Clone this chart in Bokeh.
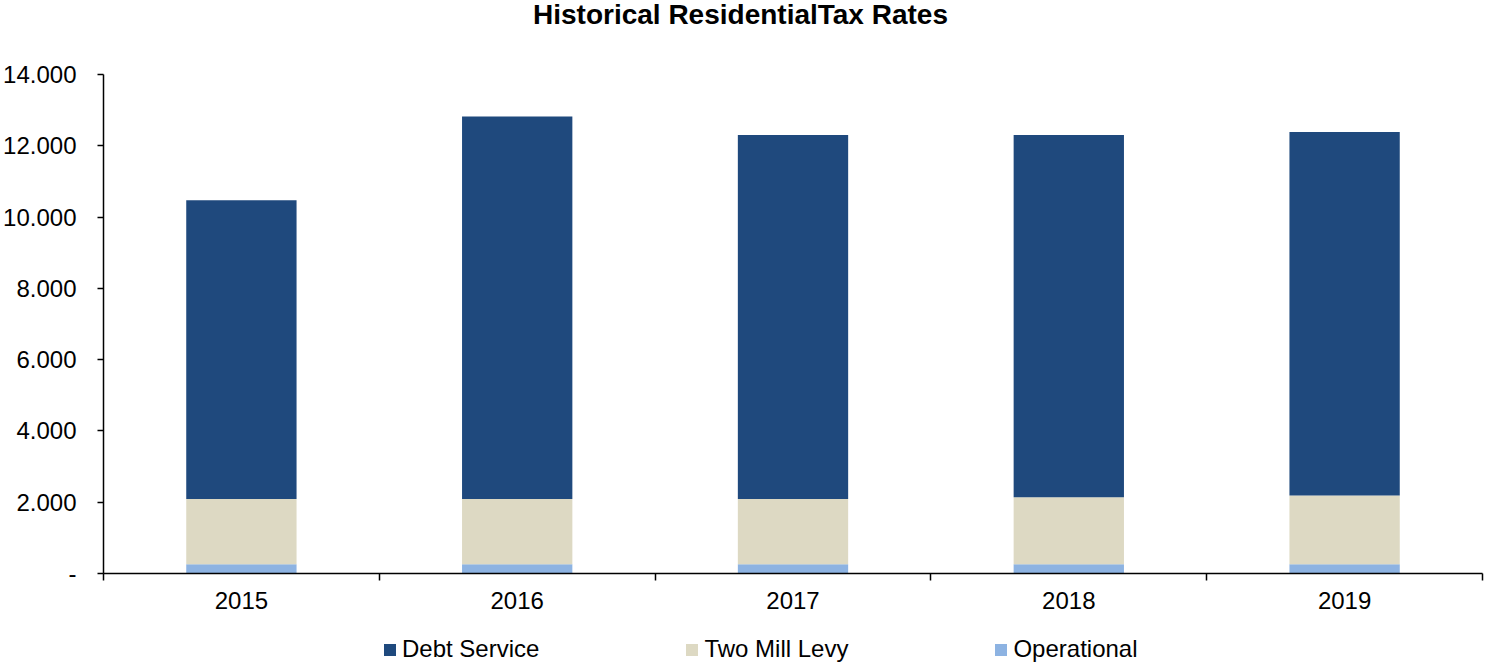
from bokeh.plotting import figure
from bokeh.layouts import column
from bokeh.models import ColumnDataSource, FixedTicker, Legend, LegendItem, Range1d, Div
from bokeh.embed import file_html
from bokeh.resources import INLINE

years = ["2015", "2016", "2017", "2018", "2019"]
operational = [0.26, 0.26, 0.26, 0.26, 0.26]
two_mill = [1.83, 1.83, 1.83, 1.88, 1.93]
debt = [8.38, 10.73, 10.21, 10.16, 10.20]
y_ticks = [0, 2, 4, 6, 8, 10, 12, 14]
y_tick_labels = ["-", "2.000", "4.000", "6.000", "8.000", "10.000", "12.000", "14.000"]
series_names = ["Operational", "Two Mill Levy", "Debt Service"]
colors = ["#8DB3E2", "#DDD9C3", "#1F497D"]
title_text = "Historical ResidentialTax Rates"

FONT = "Liberation Sans"
W = 1486

x_centers = [i + 0.5 for i in range(len(years))]
source = ColumnDataSource(dict(x=x_centers, operational=operational,
                               two_mill=two_mill, debt=debt))
stackers = ["operational", "two_mill", "debt"]

# ---- title ----
title_div = Div(
    text=('<div style="margin-left:533px; margin-top:0px; font-family:\'Liberation Sans\';'
          ' font-weight:bold; font-size:28px; line-height:1.1; white-space:nowrap; color:black;">'
          + title_text + '</div>'),
    width=W, height=34, margin=0)

# ---- main chart ----
p = figure(width=W, height=586, output_backend="svg", toolbar_location=None,
           x_range=Range1d(0, len(years)), y_range=Range1d(0, 14),
           min_border_left=102, min_border_right=4, min_border_top=40,
           min_border_bottom=47, margin=0)

p.vbar_stack(stackers, x="x", width=0.4, color=colors, source=source, line_color=None)

p.xgrid.visible = False
p.ygrid.visible = False
p.outline_line_color = None

xa = p.xaxis[0]
xa.ticker = FixedTicker(ticks=x_centers, minor_ticks=list(range(len(years) + 1)))
xa.major_label_overrides = {c: y for c, y in zip(x_centers, years)}
xa.major_tick_out = 0
xa.major_tick_in = 0
xa.minor_tick_out = 7
xa.minor_tick_in = 0
xa.minor_tick_line_color = "black"
xa.minor_tick_line_width = 1.5
xa.axis_line_color = "black"
xa.axis_line_width = 1.5
xa.major_label_text_font = FONT
xa.major_label_text_font_size = "24px"
xa.major_label_text_color = "black"
xa.major_label_standoff = 11

ya = p.yaxis[0]
ya.ticker = FixedTicker(ticks=y_ticks, minor_ticks=[])
ya.major_label_overrides = {t: l for t, l in zip(y_ticks, y_tick_labels)}
ya.major_tick_out = 6
ya.major_tick_in = 0
ya.major_tick_line_color = "black"
ya.major_tick_line_width = 1.5
ya.axis_line_color = "black"
ya.axis_line_width = 1.5
ya.major_label_text_font = FONT
ya.major_label_text_font_size = "24px"
ya.major_label_text_color = "black"
ya.major_label_standoff = 21

# ---- legend strip ----
lg = figure(width=W, height=43, output_backend="svg", toolbar_location=None,
            x_range=Range1d(0, 1), y_range=Range1d(0, 1),
            x_axis_type=None, y_axis_type=None,
            min_border_left=0, min_border_right=0, min_border_top=0, min_border_bottom=0,
            margin=0)
lg.xgrid.visible = False
lg.ygrid.visible = False
lg.outline_line_color = None
lg_renderers = lg.vbar_stack(stackers, x="x", width=0.4, color=colors, source=source,
                             line_color=None, visible=False)

order = [2, 1, 0]
items = [LegendItem(label=series_names[i], renderers=[lg_renderers[i]]) for i in order]
legend = Legend(items=items, orientation="horizontal", location=(279, 0),
                label_text_font=FONT, label_text_font_size="24px",
                label_text_color="black", glyph_width=15, glyph_height=15,
                label_standoff=5, spacing=145, border_line_color=None,
                background_fill_alpha=0, padding=0, margin=0)
lg.add_layout(legend, "center")

layout = column(title_div, p, lg, spacing=0)
open("out.html", "w").write(file_html(layout, INLINE))
